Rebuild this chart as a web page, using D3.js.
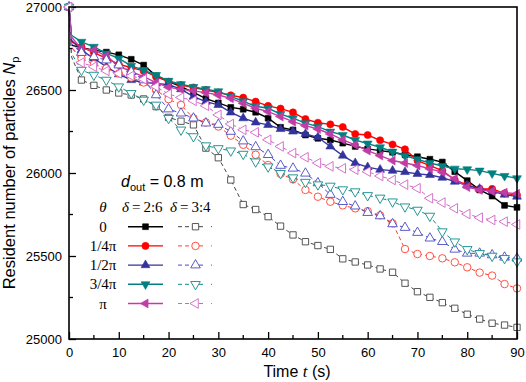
<!DOCTYPE html>
<html><head><meta charset="utf-8">
<script src="https://cdn.jsdelivr.net/npm/d3@7"></script>
<style>body{margin:0;background:#fff}svg{display:block}</style>
</head><body>
<svg id="c" width="526" height="382"></svg>
<script>
const times = [0,0.5,2.5,5,7.5,10,12.5,15,17.5,20,22.5,25,27.5,30,32.5,35,37.5,40,42.5,45,47.5,50,52.5,55,57.5,60,62.5,65,67.5,70,72.5,75,77.5,80,82.5,85,87.5,90];
const thetaLabels = ["0","1/4π","1/2π","3/4π","π"];
const xTicks = [0,10,20,30,40,50,60,70,80,90];
const yTicks = [25000,25500,26000,26500,27000];
// δ = 2:6 (solid, filled markers)
const solid0 = [27000,26770,26755,26740,26728,26712,26685,26650,26585,26550,26520,26485,26448,26422,26395,26384,26366,26330,26275,26259,26229,26209,26199,26180,26160,26145,26135,26125,26110,26098,26083,26066,26008,25954,25898,25861,25805,25793];
const solid1 = [27000,26790,26760,26725,26690,26655,26635,26615,26580,26550,26530,26515,26500,26485,26468,26454,26430,26404,26388,26365,26325,26303,26293,26277,26235,26229,26197,26172,26143,26075,26045,26015,25958,25928,25904,25904,25877,25867];
const solid2 = [27000,26800,26740,26690,26640,26595,26560,26545,26540,26532,26505,26460,26430,26410,26365,26330,26305,26290,26265,26250,26235,26215,26160,26105,26060,26035,26020,26014,26006,25995,25988,25972,25948,25925,25905,25890,25870,25858];
const solid3 = [27000,26830,26790,26760,26720,26690,26645,26620,26590,26555,26535,26518,26505,26492,26462,26432,26402,26390,26355,26330,26300,26279,26249,26229,26199,26177,26155,26128,26104,26082,26060,26042,26026,26022,26014,25998,25982,25968];
const solid4 = [27000,26820,26748,26740,26705,26645,26610,26580,26545,26516,26505,26495,26484,26470,26450,26420,26390,26370,26340,26309,26285,26265,26235,26200,26170,26135,26105,26075,26060,26045,26025,26005,25965,25915,25898,25890,25882,25875];
// δ = 3:4 (dashed, hollow markers)
const dashed0 = [27000,26700,26560,26528,26500,26482,26470,26446,26400,26335,26312,26290,26150,26092,25958,25810,25780,25737,25680,25627,25586,25563,25540,25483,25464,25446,25422,25402,25336,25285,25251,25219,25185,25149,25120,25095,25084,25070];
const dashed1 = [27000,26760,26690,26655,26630,26600,26575,26545,26500,26445,26410,26330,26305,26280,26225,26170,26110,26048,25995,25962,25898,25857,25827,25805,25787,25770,25745,25697,25542,25512,25500,25486,25462,25432,25400,25382,25331,25305];
const dashed2 = [27000,26780,26725,26700,26680,26650,26610,26560,26470,26385,26360,26330,26300,26292,26250,26192,26157,26110,26045,26028,25998,25940,25870,25827,25800,25761,25741,25693,25671,25641,25607,25586,25540,25516,25516,25506,25492,25486];
const dashed3 = [27000,26720,26620,26590,26560,26520,26480,26440,26410,26330,26260,26220,26165,26148,26134,26114,26068,26038,25998,25972,25945,25930,25922,25900,25888,25865,25850,25827,25797,25777,25741,25647,25586,25540,25516,25500,25486,25466];
const dashed4 = [27000,26760,26665,26640,26615,26600,26585,26565,26520,26475,26455,26435,26405,26350,26295,26260,26245,26200,26160,26120,26095,26060,26040,26028,26020,26008,25982,25958,25930,25908,25848,25822,25787,25753,25731,25717,25707,25690];

const solidColors = ["#000000","#ff0000","#33339e","#008080","#c23ca6"];
const dashedColors = ["#444444","#ff4030","#4a4ac4","#138a8a","#d064c4"];
const shapes = [
  {type:d3.symbolSquare, rot:0, sf:34, sh:40},
  {type:d3.symbolCircle, rot:0, sf:40, sh:44},
  {type:d3.symbolTriangle, rot:0, sf:34, sh:40},
  {type:d3.symbolTriangle, rot:180, sf:34, sh:40},
  {type:d3.symbolTriangle, rot:-90, sf:34, sh:40}
];
const solidData = [solid0,solid1,solid2,solid3,solid4];
const dashedData = [dashed0,dashed1,dashed2,dashed3,dashed4];

const svg = d3.select("#c");
const x = d3.scaleLinear().domain([0,90]).range([69,517]);
const y = d3.scaleLinear().domain([25000,27000]).range([339,7]);

// axes
const xAxis = d3.axisBottom(x).tickValues(xTicks).tickSizeInner(-7).tickSizeOuter(0).tickPadding(9).tickFormat(d3.format("d"));
const yAxis = d3.axisLeft(y).tickValues(yTicks).tickSizeInner(-7).tickSizeOuter(0).tickPadding(7).tickFormat(d3.format("d"));
const gx = svg.append("g").attr("transform","translate(0,339)").call(xAxis);
const gy = svg.append("g").attr("transform","translate(69,0)").call(yAxis);
[gx,gy].forEach(g=>{
  g.select(".domain").remove();
  g.selectAll("line").attr("stroke","#000").attr("stroke-width",1.3);
  g.selectAll("text").attr("font-family","Liberation Sans, Arial, sans-serif").attr("font-size",13).attr("fill","#000");
});
// minor ticks
const xMinor = d3.range(5,90,10);
svg.append("g").selectAll("line").data(xMinor).join("line")
  .attr("x1",d=>x(d)).attr("x2",d=>x(d)).attr("y1",339).attr("y2",335).attr("stroke","#000").attr("stroke-width",1.3);
const yMinor = [25250,25750,26250,26750];
svg.append("g").selectAll("line").data(yMinor).join("line")
  .attr("x1",69).attr("x2",73).attr("y1",d=>y(d)).attr("y2",d=>y(d)).attr("stroke","#000").attr("stroke-width",1.3);

const line = d3.line().x((d,i)=>x(times[i])).y(d=>y(d));

function sym(i, hollow){
  const s = shapes[i];
  return d3.symbol().type(s.type).size(hollow? s.sh : s.sf)();
}
function drawMarker(g, i, cx, cy, color, hollow){
  const s = shapes[i];
  g.append("path").attr("d",sym(i,hollow))
    .attr("transform",`translate(${cx},${cy}) rotate(${s.rot})`)
    .attr("fill",hollow?"#fff":color)
    .attr("stroke",color).attr("stroke-width",hollow?0.9:0.6);
}

const plot = svg.append("g");
function drawSeries(vals, i, color, hollow){
  const g = plot.append("g");
  g.append("path").datum(vals).attr("d",line).attr("fill","none")
    .attr("stroke",color).attr("stroke-width",hollow?1:1.4)
    .attr("stroke-dasharray",hollow?"4,3":null);
  vals.forEach((v,k)=>{
    if (times[k] % 2.5 === 0) drawMarker(g,i,x(times[k]),y(v),color,hollow);
  });
}
solidData.forEach((v,i)=>drawSeries(v,i,solidColors[i],false));
dashedData.forEach((v,i)=>drawSeries(v,i,dashedColors[i],true));

// frame
svg.append("rect").attr("x",69).attr("y",7).attr("width",448).attr("height",332)
  .attr("fill","none").attr("stroke","#000").attr("stroke-width",1.6);

// titles
svg.append("text").attr("x",297).attr("y",377).attr("text-anchor","middle")
  .attr("font-family","Liberation Sans, Arial, sans-serif").attr("font-size",16)
  .call(t=>{t.append("tspan").text("Time ");
            t.append("tspan").attr("font-family","Liberation Serif, Times New Roman, serif").attr("font-style","italic").attr("font-size",17).text("t");
            t.append("tspan").text(" (s)");});
svg.append("text").attr("transform","translate(15,173) rotate(-90)").attr("text-anchor","middle")
  .attr("font-family","Liberation Sans, Arial, sans-serif").attr("font-size",16.5)
  .call(t=>{t.append("tspan").text("Resident number of particles ");
            t.append("tspan").attr("font-style","italic").text("N");
            t.append("tspan").attr("font-size",11).attr("dy",4).text("p");});

// legend
const leg = svg.append("g");
leg.append("text").attr("x",121).attr("y",187).attr("font-family","Liberation Sans, Arial, sans-serif").attr("font-size",16)
  .call(t=>{t.append("tspan").attr("font-style","italic").text("d");
            t.append("tspan").attr("font-size",11).attr("dy",4).text("out");
            t.append("tspan").attr("dy",-4).text(" = 0.8 m");});
const serif = "Liberation Serif, Times New Roman, serif";
leg.append("text").attr("x",103).attr("y",212).attr("text-anchor","middle").attr("font-family",serif).attr("font-size",15).attr("font-style","italic").text("θ");
[["2:6",122],["3:4",170]].forEach(([lab,xx])=>{
  leg.append("text").attr("x",xx).attr("y",212).attr("font-family",serif).attr("font-size",15)
   .call(t=>{t.append("tspan").attr("font-style","italic").text("δ");
             t.append("tspan").text("\u2009=\u2009"+lab);});
});
const rowY = [226.7,245.9,265.1,284.3,303.5];
thetaLabels.forEach((lab,i)=>{
  const yy = rowY[i];
  leg.append("text").attr("x",103).attr("y",yy+5).attr("text-anchor","middle").attr("font-family",serif).attr("font-size",15).text(lab);
  leg.append("line").attr("x1",128).attr("x2",163).attr("y1",yy).attr("y2",yy).attr("stroke",solidColors[i]).attr("stroke-width",1.4);
  drawMarker(leg,i,145.5,yy,solidColors[i],false);
  leg.append("line").attr("x1",178).attr("x2",214).attr("y1",yy).attr("y2",yy).attr("stroke",dashedColors[i]).attr("stroke-width",1).attr("stroke-dasharray","4,3,4,3,4,3,4,8,1");
  drawMarker(leg,i,195.5,yy,dashedColors[i],true);
});
</script>
</body></html>
